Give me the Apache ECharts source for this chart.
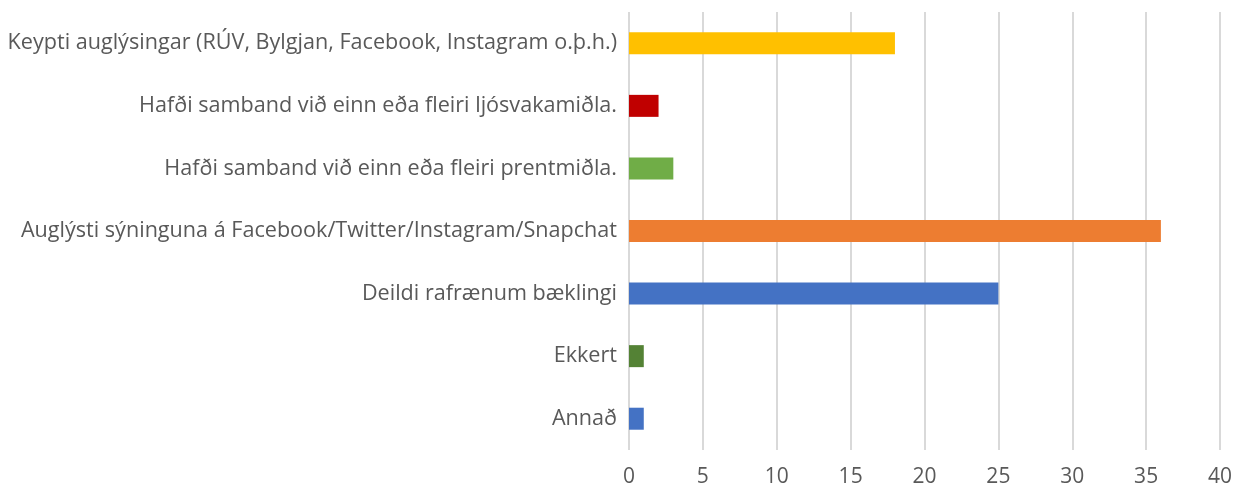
<!DOCTYPE html>
<html>
<head>
<meta charset="utf-8">
<script src="https://cdn.jsdelivr.net/npm/echarts@6/dist/echarts.min.js"></script>
<style>
  html, body { margin: 0; padding: 0; background: #fff; }
  #chart { width: 1253px; height: 494px; }
</style>
</head>
<body>
<div id="chart"></div>
<script>
// categories top to bottom
var categories = [
  'Keypti auglýsingar (RÚV, Bylgjan, Facebook, Instagram o.þ.h.)',
  'Hafði samband við einn eða fleiri ljósvakamiðla.',
  'Hafði samband við einn eða fleiri prentmiðla.',
  'Auglýsti sýninguna á Facebook/Twitter/Instagram/Snapchat',
  'Deildi rafrænum bæklingi',
  'Ekkert',
  'Annað'
];
var values = [18, 2, 3, 36, 25, 1, 1];
var barColors = ['#FFC000', '#C00000', '#70AD47', '#ED7D31', '#4472C4', '#548235', '#4472C4'];

var xMin = 0, xMax = 40, xStep = 5;

var chart = echarts.init(document.getElementById('chart'), null, { renderer: 'canvas' });

var option = {
  animation: false,
  textStyle: { fontFamily: 'Open Sans' },
  grid: {
    left: 629,
    right: 33,
    top: 12,
    bottom: 44,
    containLabel: false
  },
  xAxis: {
    type: 'value',
    min: xMin,
    max: xMax,
    interval: xStep,
    axisLine: { show: false },
    axisTick: { show: false },
    axisLabel: { color: '#595959', fontSize: 21, margin: 17, fontFamily: 'Open Sans' },
    splitLine: { show: true, lineStyle: { color: '#d9d9d9', width: 2 } }
  },
  yAxis: {
    type: 'category',
    data: categories,
    inverse: true,
    axisLine: { show: false },
    axisTick: { show: false },
    axisLabel: { color: '#595959', fontSize: 21.6, margin: 12, fontFamily: 'Open Sans' }
  },
  series: [{
    type: 'bar',
    barWidth: 22,
    data: values.map(function (v, i) {
      return { value: v, itemStyle: { color: barColors[i] } };
    })
  }]
};

chart.setOption(option);
</script>
</body>
</html>
